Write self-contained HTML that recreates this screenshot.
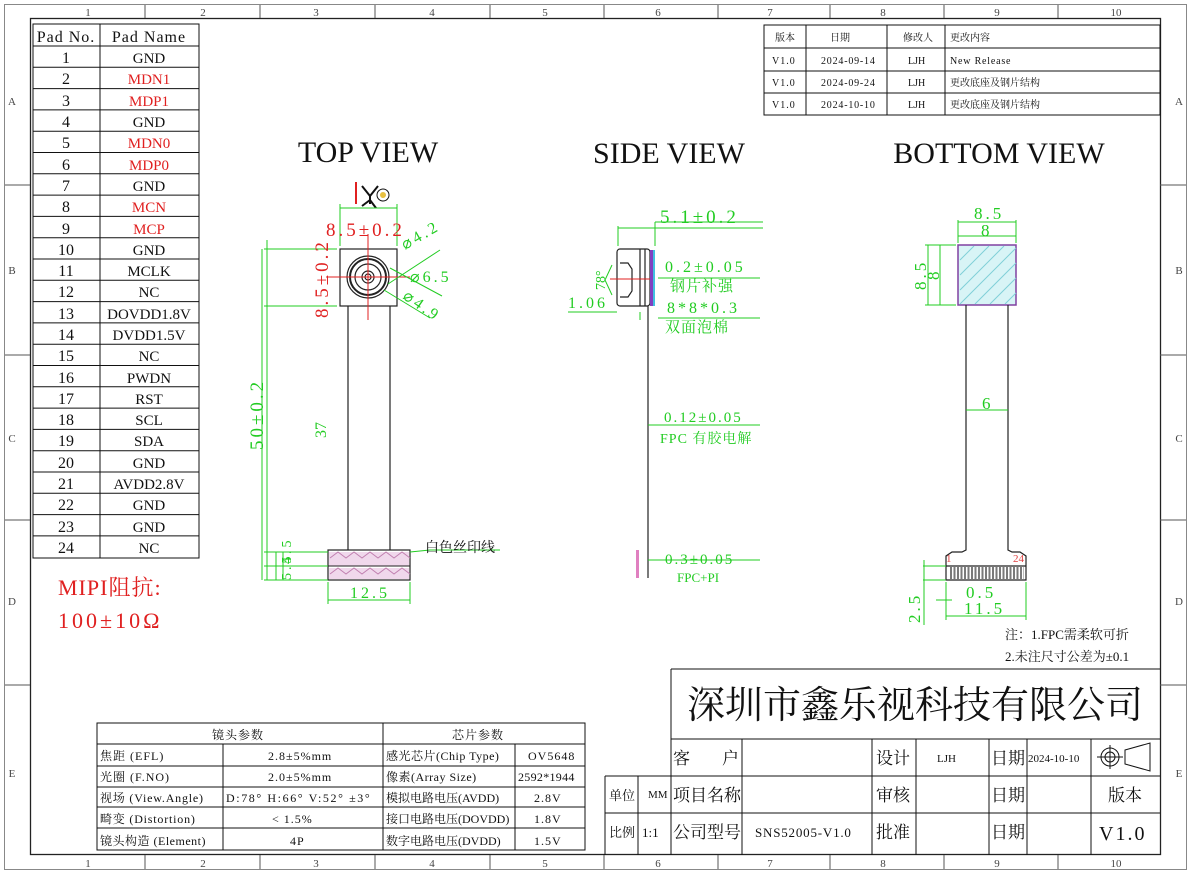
<!DOCTYPE html>
<html><head><meta charset="utf-8"><style>
html,body{margin:0;padding:0;background:#fff}
svg{display:block}
text{font-family:"Liberation Serif","Noto Serif CJK SC","Noto Sans CJK SC",serif}
.k{fill:#111}.r{fill:#e02020}.g{fill:#22cc22}
.sp{letter-spacing:3px}
</style></head><body>
<svg width="1191" height="874" viewBox="0 0 1191 874" xmlns="http://www.w3.org/2000/svg">
<rect x="4.5" y="4.5" width="1182" height="865" fill="none" stroke="#888" stroke-width="1"/>
<rect x="30.5" y="18.5" width="1130" height="836" fill="none" stroke="#222" stroke-width="1.3"/>
<g stroke="#555" stroke-width="1">
<path d="M145 5V18M260 5V18M375 5V18M490 5V18M604 5V18M718 5V18M830 5V18M944 5V18M1058 5V18"/>
<path d="M145 855V869M260 855V869M375 855V869M490 855V869M604 855V869M718 855V869M830 855V869M944 855V869M1058 855V869"/>
<path d="M5 185H30M5 355H30M5 520H30M5 685H30M1160 185H1186M1160 355H1186M1160 520H1186M1160 685H1186"/>
</g>
<g font-size="11" fill="#444" text-anchor="middle" font-family="Liberation Sans">
<text x="88" y="16">1</text><text x="203" y="16">2</text><text x="316" y="16">3</text><text x="432" y="16">4</text><text x="545" y="16">5</text><text x="658" y="16">6</text><text x="770" y="16">7</text><text x="883" y="16">8</text><text x="997" y="16">9</text><text x="1116" y="16">10</text>
<text x="88" y="867">1</text><text x="203" y="867">2</text><text x="316" y="867">3</text><text x="432" y="867">4</text><text x="545" y="867">5</text><text x="658" y="867">6</text><text x="770" y="867">7</text><text x="883" y="867">8</text><text x="997" y="867">9</text><text x="1116" y="867">10</text>
<text x="12" y="105">A</text><text x="12" y="274">B</text><text x="12" y="442">C</text><text x="12" y="605">D</text><text x="12" y="777">E</text>
<text x="1179" y="105">A</text><text x="1179" y="274">B</text><text x="1179" y="442">C</text><text x="1179" y="605">D</text><text x="1179" y="777">E</text>
</g>

<g stroke="#111" stroke-width="1" fill="none">
<rect x="33" y="24" width="166" height="534"/>
<path d="M100 24V558"/>
<path d="M33 46H199M33 67.3H199M33 88.6H199M33 109.9H199M33 131.2H199M33 152.5H199M33 173.8H199M33 195.1H199M33 216.4H199M33 237.7H199M33 259H199M33 280.3H199M33 301.6H199M33 322.9H199M33 344.2H199M33 365.5H199M33 386.8H199M33 408.1H199M33 429.4H199M33 450.7H199M33 472H199M33 493.3H199M33 514.6H199M33 535.9H199"/>
</g>
<g font-size="16" text-anchor="middle" class="k">
<text x="66" y="42" letter-spacing="1">Pad No.</text><text x="149" y="42" letter-spacing="1">Pad Name</text>
<text x="66" y="63">1</text><text x="66" y="84">2</text><text x="66" y="106">3</text><text x="66" y="127">4</text><text x="66" y="148">5</text><text x="66" y="170">6</text><text x="66" y="191">7</text><text x="66" y="212">8</text><text x="66" y="234">9</text><text x="66" y="255">10</text><text x="66" y="276">11</text><text x="66" y="297">12</text><text x="66" y="319">13</text><text x="66" y="340">14</text><text x="66" y="361">15</text><text x="66" y="383">16</text><text x="66" y="404">17</text><text x="66" y="425">18</text><text x="66" y="446">19</text><text x="66" y="468">20</text><text x="66" y="489">21</text><text x="66" y="510">22</text><text x="66" y="532">23</text><text x="66" y="553">24</text>
</g>
<g font-size="15" text-anchor="middle" class="k">
<text x="149" y="63">GND</text><text x="149" y="84" class="r">MDN1</text><text x="149" y="106" class="r">MDP1</text><text x="149" y="127">GND</text><text x="149" y="148" class="r">MDN0</text><text x="149" y="170" class="r">MDP0</text><text x="149" y="191">GND</text><text x="149" y="212" class="r">MCN</text><text x="149" y="234" class="r">MCP</text><text x="149" y="255">GND</text><text x="149" y="276">MCLK</text><text x="149" y="297">NC</text><text x="149" y="319">DOVDD1.8V</text><text x="149" y="340">DVDD1.5V</text><text x="149" y="361">NC</text><text x="149" y="383">PWDN</text><text x="149" y="404">RST</text><text x="149" y="425">SCL</text><text x="149" y="446">SDA</text><text x="149" y="468">GND</text><text x="149" y="489">AVDD2.8V</text><text x="149" y="510">GND</text><text x="149" y="532">GND</text><text x="149" y="553">NC</text>
</g>
<text x="58" y="595" font-size="22" class="r" letter-spacing="1">MIPI阻抗:</text>
<text x="58" y="628" font-size="22" class="r" letter-spacing="3">100±10Ω</text>

<g stroke="#111" stroke-width="1" fill="none">
<rect x="764" y="25" width="396" height="90"/>
<path d="M764 48H1160M764 71H1160M764 93H1160M806 25V115M887 25V115M945 25V115"/>
</g>
<g font-size="10" class="k">
<text x="775" y="41">版本</text><text x="830" y="41">日期</text><text x="903" y="41">修改人</text><text x="950" y="41">更改内容</text>
<text x="772" y="64" letter-spacing="1">V1.0</text><text x="821" y="64" letter-spacing="0.8">2024-09-14</text><text x="908" y="64">LJH</text><text x="950" y="64" letter-spacing="0.8">New Release</text>
<text x="772" y="86" letter-spacing="1">V1.0</text><text x="821" y="86" letter-spacing="0.8">2024-09-24</text><text x="908" y="86">LJH</text><text x="950" y="86">更改底座及钢片结构</text>
<text x="772" y="108" letter-spacing="1">V1.0</text><text x="821" y="108" letter-spacing="0.8">2024-10-10</text><text x="908" y="108">LJH</text><text x="950" y="108">更改底座及钢片结构</text>
</g>

<g font-size="30" class="k" text-anchor="middle">
<text x="368" y="162">TOP VIEW</text><text x="669" y="163">SIDE VIEW</text><text x="999" y="163">BOTTOM VIEW</text>
</g>

<path d="M356 182v22" stroke="#e02020" stroke-width="2"/>
<path d="M362 186l8 10l8-10M370 196v8M362 206l8-6l6 8" stroke="#111" stroke-width="2" fill="none"/>
<circle cx="383" cy="195" r="6" fill="#fff" stroke="#111"/><circle cx="383" cy="195" r="3" fill="#e8c040"/>
<g stroke="#222" stroke-width="1.2" fill="none">
<rect x="340" y="249" width="57" height="57"/>
<path d="M348 306V550M390 306V550"/>
<rect x="328" y="550" width="82" height="30"/>
<circle cx="368" cy="277" r="21"/><circle cx="368" cy="277" r="18" stroke-width="2"/><circle cx="368" cy="277" r="13"/><circle cx="368" cy="277" r="6"/><circle cx="368" cy="277" r="3"/>
</g>
<rect x="329" y="552" width="80" height="14" fill="#f0d8ec"/><rect x="329" y="568" width="80" height="11" fill="#f0d8ec"/>
<path d="M330 558l8-6l8 6l8-6l8 6l8-6l8 6l8-6l8 6l8-6l8 6M330 574l8-6l8 6l8-6l8 6l8-6l8 6l8-6l8 6l8-6l8 6" stroke="#c080b0" fill="none"/>
<path d="M328 566H410" stroke="#222"/>
<path d="M368 234V320M326 277H410" stroke="#e02020" stroke-width="1"/>
<g stroke="#22cc22" stroke-width="1" fill="none">
<path d="M340 246V204M397 246V204M340 208H397"/>
<path d="M337 249H264M337 306H264M267 249V306"/>
<path d="M267 240V580M262 249V580"/>
<path d="M264 580H328M264 566H328M264 552H328M283 552V580M276 552V580"/>
<path d="M328 582V604M410 582V604M328 600H410"/>
<path d="M388 284L440 250M390 268L442 296M384 290L430 318"/>
<path d="M410 552L430 550H500"/>
</g>
<g class="g" font-size="19">
<text x="326" y="236" class="r sp" font-size="19">8.5±0.2</text>
<text transform="translate(328 318) rotate(-90)" class="r sp" font-size="19">8.5±0.2</text>
<text transform="translate(405 250) rotate(-30)" font-size="16" class="sp">⌀4.2</text>
<text x="410" y="282" font-size="16" class="sp">⌀6.5</text>
<text transform="translate(402 298) rotate(35)" font-size="16" class="sp">⌀4.9</text>
<text transform="translate(263 450) rotate(-90)" class="sp">50±0.2</text>
<text transform="translate(326 438) rotate(-90)" font-size="16">37</text>
<text transform="translate(291 580) rotate(-90)" font-size="14" class="sp">5.5</text>
<text transform="translate(291 564) rotate(-90)" font-size="14" class="sp">4.5</text>
<text x="350" y="598" font-size="16" class="sp">12.5</text>
</g>
<text x="425" y="552" font-size="14" class="k">白色丝印线</text>

<g stroke="#222" stroke-width="1.2" fill="none">
<rect x="617" y="249" width="33" height="57" rx="3"/>
<path d="M640 249V306M645 249V306M648 306V578"/>
<path d="M620 263h8l4 6v22l-4 6h-8"/>
</g>
<rect x="650" y="250" width="3" height="56" fill="#8040c0"/><rect x="653" y="250" width="2" height="56" fill="#40c0e0"/>
<rect x="636" y="550" width="3" height="28" fill="#e080c0"/>
<g stroke="#22cc22" fill="none">
<path d="M618 246V226M655 246V222M618 228H763M655 222H763"/>
<path d="M658 278H760M658 318H760M617 312H568M640 312V320"/>
<path d="M648 425H760M648 560H760"/>
<path d="M612 265L605 280L612 295"/>
</g>
<path d="M610 279H650" stroke="#e02020"/>
<g class="g" font-size="17">
<text x="660" y="223" font-size="19" class="sp">5.1±0.2</text>
<text x="665" y="272" font-size="16" class="sp">0.2±0.05</text>
<text x="670" y="291" font-size="15" letter-spacing="1">钢片补强</text>
<text x="568" y="308" font-size="16" class="sp">1.06</text>
<text x="667" y="313" font-size="16" class="sp">8*8*0.3</text>
<text x="665" y="332" font-size="15" letter-spacing="1">双面泡棉</text>
<text transform="translate(605 290) rotate(-90)" font-size="14">78°</text>
<text x="664" y="422" font-size="15" letter-spacing="2">0.12±0.05</text>
<text x="660" y="443" font-size="14" letter-spacing="1">FPC 有胶电解</text>
<text x="665" y="564" font-size="15" letter-spacing="2">0.3±0.05</text>
<text x="677" y="582" font-size="13">FPC+PI</text>
</g>

<rect x="958" y="245" width="58" height="60" fill="#d8f4f6" stroke="#8040a0" stroke-width="1.5"/>
<path d="M960 260l14-14M960 275l29-29M960 290l44-44M960 304l56-56M975 304l41-41M990 304l26-26M1005 304l11-11" stroke="#80d0d8"/>
<g stroke="#222" stroke-width="1.2" fill="none">
<path d="M966 305V550l-4 2H952l-6 4V580H1026V556l-6-4H1012l-4-2V305"/>
<path d="M946 566H1026"/>
</g>
<path d="M950 566h74" stroke="#222" stroke-width="12" stroke-dasharray="2 1.5" opacity="0.6" transform="translate(0 7)"/>
<g stroke="#22cc22" fill="none">
<path d="M958 243V220M1016 243V220M958 222H1016M958 236H1016"/>
<path d="M956 245H925M956 305H925M928 245V305M940 245V305"/>
<path d="M966 410H1008"/>
<path d="M923 566H946M923 580H946M924 560V625M946 582V620M1026 582V620M946 616H1026M946 600H952M936 600H946"/>
</g>
<g class="g" font-size="17">
<text x="974" y="219" class="sp">8.5</text><text x="981" y="236">8</text>
<text transform="translate(926 290) rotate(-90)" class="sp">8.5</text>
<text transform="translate(939 280) rotate(-90)">8</text>
<text x="982" y="409">6</text>
<text x="966" y="598" class="sp">0.5</text><text x="964" y="614" class="sp">11.5</text>
<text transform="translate(920 623) rotate(-90)" class="sp">2.5</text>
</g>
<text x="946" y="562" font-size="11" fill="#e04040">1</text><text x="1013" y="562" font-size="11" fill="#e04040">24</text>
<text x="1005" y="639" font-size="13" class="k">注：1.FPC需柔软可折</text>
<text x="1005" y="661" font-size="13" class="k">2.未注尺寸公差为±0.1</text>

<g stroke="#111" stroke-width="1" fill="none">
<rect x="97" y="723" width="488" height="127"/>
<path d="M97 744H585M97 766H585M97 787H585M97 807H585M97 828H585M383 723V850M223 744V850M515 744V850"/>
</g>
<g font-size="12" class="k" letter-spacing="1">
<text x="212" y="739">镜头参数</text><text x="452" y="739">芯片参数</text>
<text x="100" y="760">焦距 (EFL)</text><text x="268" y="760">2.8±5%mm</text><text x="386" y="760" letter-spacing="0.5">感光芯片(Chip Type)</text><text x="528" y="760">OV5648</text>
<text x="100" y="781">光圈 (F.NO)</text><text x="268" y="781">2.0±5%mm</text><text x="386" y="781" letter-spacing="0.5">像素(Array Size)</text><text x="518" y="781" letter-spacing="0.3">2592*1944</text>
<text x="100" y="802" letter-spacing="0.8">视场 (View.Angle)</text><text x="226" y="802" letter-spacing="1.6">D:78° H:66° V:52° ±3°</text><text x="386" y="802" letter-spacing="0">模拟电路电压(AVDD)</text><text x="534" y="802">2.8V</text>
<text x="100" y="823" letter-spacing="0.8">畸变 (Distortion)</text><text x="272" y="823">&lt; 1.5%</text><text x="386" y="823" letter-spacing="0">接口电路电压(DOVDD)</text><text x="534" y="823">1.8V</text>
<text x="100" y="845" letter-spacing="0.5">镜头构造 (Element)</text><text x="290" y="845">4P</text><text x="386" y="845" letter-spacing="0">数字电路电压(DVDD)</text><text x="534" y="845">1.5V</text>
</g>

<g stroke="#111" stroke-width="1" fill="none">
<path d="M671 669H1160M671 669V855M671 739H1160M605 776H1160M605 813H1160M605 776V855M638 776V855M742 739V855M872 739V855M916 739V855M989 739V855M1027 739V855M1091 739V855"/>
<circle cx="1110" cy="757" r="9"/><circle cx="1110" cy="757" r="5"/><path d="M1097 757H1123M1110 745V769M1125 750L1150 743V771L1125 764Z"/>
</g>
<text x="915" y="718" font-size="38" text-anchor="middle" class="k">深圳市鑫乐视科技有限公司</text>
<g font-size="17" class="k">
<text x="673" y="764">客</text><text x="722" y="764">户</text>
<text x="876" y="764">设计</text><text x="937" y="762" font-size="11">LJH</text>
<text x="991" y="764">日期</text><text x="1028" y="762" font-size="11">2024-10-10</text>
<text x="609" y="800" font-size="13">单位</text><text x="648" y="798" font-size="11">MM</text>
<text x="673" y="801">项目名称</text><text x="876" y="801">审核</text><text x="991" y="801">日期</text><text x="1108" y="801">版本</text>
<text x="609" y="837" font-size="13">比例</text><text x="642" y="837" font-size="13">1:1</text>
<text x="673" y="838">公司型号</text><text x="755" y="837" font-size="13" letter-spacing="0.8">SNS52005-V1.0</text><text x="876" y="838">批准</text><text x="991" y="838">日期</text><text x="1099" y="840" font-size="20" letter-spacing="2">V1.0</text>
</g>
</svg>
</body></html>
